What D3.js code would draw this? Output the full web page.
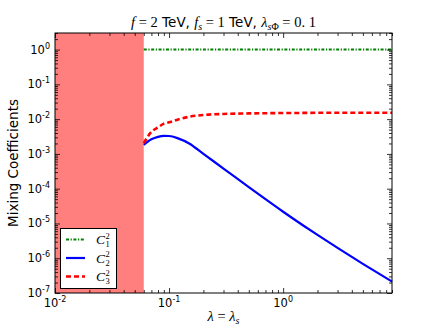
<!DOCTYPE html>
<html><head><meta charset="utf-8">
<script src="https://cdn.jsdelivr.net/npm/d3@7"></script>
<style>body{margin:0;background:#fff}</style>
</head><body>
<svg id="c" width="436" height="327"></svg>
<script>
// ---- data ----
const lambda = [0.06, 0.07, 0.08, 0.09, 0.1, 0.12, 0.15, 0.2, 0.3, 0.5, 0.7, 1, 1.5, 2, 3, 5, 9];
const c1 = [1, 1, 1, 1, 1, 1, 1, 1, 1, 1, 1, 1, 1, 1, 1, 1, 1];
const c2 = [1.83e-3, 2.63e-3, 3.1e-3, 3.3e-3, 3.27e-3, 2.8e-3, 2.0e-3, 1.0e-3, 3.8e-4, 1.11e-4, 4.99e-5, 2.17e-5, 8.73e-6, 4.67e-6, 1.98e-6, 6.9e-7, 2.13e-7];
const c3 = [2.05e-3, 4.3e-3, 5.8e-3, 7.4e-3, 8.1e-3, 9.8e-3, 1.17e-2, 1.32e-2, 1.41e-2, 1.46e-2, 1.48e-2, 1.5e-2, 1.51e-2, 1.52e-2, 1.52e-2, 1.52e-2, 1.52e-2];
const seriesIdx = ["1", "2", "3"];
const xDomain = [0.01, 9];
const yDomain = [1e-7, 3];
const shadeRange = [0.01, 0.06];
const xMajor = [0.01, 0.1, 1];
const xMajorExp = ["-2", "-1", "0"];
const yMajor = [1e-7, 1e-6, 1e-5, 1e-4, 1e-3, 1e-2, 1e-1, 1];
const yMajorExp = ["-7", "-6", "-5", "-4", "-3", "-2", "-1", "0"];

// ---- layout ----
const L = 55, R = 392, T = 33, B = 293;
const svg = d3.select("#c");
const x = d3.scaleLog().domain(xDomain).range([L, R]);
const y = d3.scaleLog().domain(yDomain).range([B, T]);

const xMinor = [];
xMajor.forEach(d => { for (let k = 2; k <= 9; k++) { const v = d * k; if (v <= xDomain[1] * 1.0001) xMinor.push(v); } });
const yMinor = [];
yMajor.forEach(d => { for (let k = 2; k <= 9; k++) { const v = d * k; if (v <= yDomain[1] * 1.0001) yMinor.push(v); } });

// shaded region
svg.append("rect")
  .attr("x", x(shadeRange[0])).attr("y", T)
  .attr("width", x(shadeRange[1]) - x(shadeRange[0])).attr("height", B - T)
  .attr("fill", "#ff7f7f");

// lines
const line = ys => d3.line().x((d, i) => x(lambda[i])).y((d, i) => y(ys[i])).curve(d3.curveMonotoneX)(ys);
svg.append("path").attr("d", line(c1)).attr("fill", "none").attr("stroke", "#008000")
  .attr("stroke-width", 2).attr("stroke-dasharray", "3,1.6,1.2,1.6");
svg.append("path").attr("d", line(c2)).attr("fill", "none").attr("stroke", "#0000ff")
  .attr("stroke-width", 2.2);
svg.append("path").attr("d", line(c3)).attr("fill", "none").attr("stroke", "#ff0000")
  .attr("stroke-width", 2.6).attr("stroke-dasharray", "5,3");

// ticks
function ticks(axisGen, vals, size, tr) {
  const g = svg.append("g").attr("transform", tr)
    .call(axisGen.tickValues(vals).tickSize(size).tickFormat(""));
  g.select(".domain").remove();
  g.selectAll("line").attr("stroke", "#000").attr("stroke-width", 0.8);
}
ticks(d3.axisBottom(x), xMajor, -5, `translate(0,${B})`);
ticks(d3.axisBottom(x), xMinor, -3, `translate(0,${B})`);
ticks(d3.axisTop(x), xMajor, -5, `translate(0,${T})`);
ticks(d3.axisTop(x), xMinor, -3, `translate(0,${T})`);
ticks(d3.axisLeft(y), yMajor, -5, `translate(${L},0)`);
ticks(d3.axisLeft(y), yMinor, -3, `translate(${L},0)`);
ticks(d3.axisRight(y), yMajor, -5, `translate(${R},0)`);
ticks(d3.axisRight(y), yMinor, -3, `translate(${R},0)`);

// frame
svg.append("rect").attr("x", L).attr("y", T).attr("width", R - L).attr("height", B - T)
  .attr("fill", "none").attr("stroke", "#000").attr("stroke-width", 1);

const sans = "DejaVu Sans, sans-serif";
const serif = "Liberation Serif, serif";

// tick labels
xMajor.forEach((d, i) => {
  const t = svg.append("text").attr("x", x(d)).attr("y", 307).attr("text-anchor", "middle")
    .attr("font-family", sans).attr("font-size", 11.5).attr("fill", "#000");
  t.append("tspan").text("10");
  t.append("tspan").attr("dy", -5).attr("font-size", 8).text(xMajorExp[i]);
});
yMajor.forEach((d, i) => {
  const t = svg.append("text").attr("x", 50).attr("y", y(d) + 4).attr("text-anchor", "end")
    .attr("font-family", sans).attr("font-size", 11.5).attr("fill", "#000");
  t.append("tspan").text("10");
  t.append("tspan").attr("dy", -5).attr("font-size", 8).text(yMajorExp[i]);
});

// axis labels
svg.append("text").attr("transform", `translate(18,${(T + B) / 2}) rotate(-90)`)
  .attr("text-anchor", "middle").attr("font-family", sans).attr("font-size", 13.5)
  .text("Mixing Coefficients");

const xl = svg.append("text").attr("x", (L + R) / 2).attr("y", 321).attr("text-anchor", "middle")
  .attr("font-family", serif).attr("font-size", 14.5);
xl.append("tspan").attr("font-style", "italic").text("\u03bb");
xl.append("tspan").text(" = ");
xl.append("tspan").attr("font-style", "italic").text("\u03bb");
xl.append("tspan").attr("font-style", "italic").attr("font-size", 10).attr("dy", 3).text("s");

// title
const tt = svg.append("text").attr("x", 223.5).attr("y", 27).attr("text-anchor", "middle")
  .attr("font-size", 14.5).attr("font-family", serif);
tt.append("tspan").attr("font-style", "italic").text("f");
tt.append("tspan").text(" = 2");
tt.append("tspan").attr("font-family", sans).attr("font-size", 13.5).text(" TeV, ");
tt.append("tspan").attr("font-style", "italic").text("f");
tt.append("tspan").attr("font-style", "italic").attr("font-size", 10).attr("dy", 3).text("s");
tt.append("tspan").attr("dy", -3).text(" = 1");
tt.append("tspan").attr("font-family", sans).attr("font-size", 13.5).text(" TeV, ");
tt.append("tspan").attr("font-style", "italic").text("\u03bb");
tt.append("tspan").attr("font-style", "italic").attr("font-size", 10).attr("dy", 3).text("s");
tt.append("tspan").attr("font-size", 10).text("\u03a6");
tt.append("tspan").attr("dy", -3).text(" = 0. 1");

// legend
const lg = svg.append("g");
lg.append("rect").attr("x", 60.5).attr("y", 228.5).attr("width", 56).attr("height", 60)
  .attr("fill", "#fff").attr("stroke", "#000").attr("stroke-width", 1);
const styles = [
  {c: "#008000", w: 2, dash: "3,1.6,1.2,1.6"},
  {c: "#0000ff", w: 2.2, dash: null},
  {c: "#ff0000", w: 2.6, dash: "5,3"}
];
seriesIdx.forEach((s, i) => {
  const yy = 239.5 + i * 18.5;
  const st = styles[i];
  const l = lg.append("line").attr("x1", 66).attr("x2", 85).attr("y1", yy).attr("y2", yy)
    .attr("stroke", st.c).attr("stroke-width", st.w);
  if (st.dash) l.attr("stroke-dasharray", st.dash);
  lg.append("text").attr("x", 96).attr("y", yy + 4.5).attr("font-family", serif)
    .attr("font-style", "italic").attr("font-size", 13.5).text("C");
  lg.append("text").attr("x", 105.5).attr("y", yy - 1).attr("font-family", serif)
    .attr("font-size", 8.5).text("2");
  lg.append("text").attr("x", 105.5).attr("y", yy + 7.5).attr("font-family", serif)
    .attr("font-size", 8.5).text(s);
});
</script>
</body></html>
